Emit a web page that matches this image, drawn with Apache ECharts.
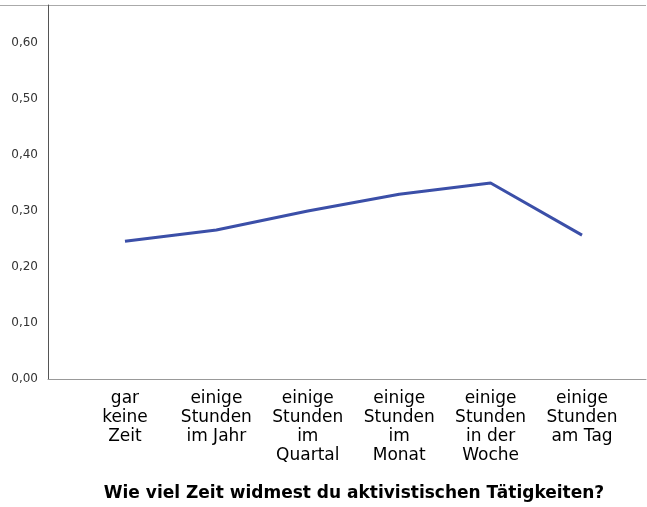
<!DOCTYPE html>
<html>
<head>
<meta charset="utf-8">
<script src="https://cdn.jsdelivr.net/npm/echarts@6/dist/echarts.min.js"></script>
<style>
    html, body { margin: 0; padding: 0; background: #fff; }
    #chart { width: 647px; height: 507px; }
</style>
</head>
<body>
<div id="chart"></div>
<script>
// categories on the x axis (line breaks as in the picture)
var categories = [
    "gar\nkeine\nZeit",
    "einige\nStunden\nim Jahr",
    "einige\nStunden\nim\nQuartal",
    "einige\nStunden\nim\nMonat",
    "einige\nStunden\nin der\nWoche",
    "einige\nStunden\nam Tag"
];
var meanValues = [0.246, 0.266, 0.300, 0.330, 0.350, 0.257];
var yTicks = [0, 0.1, 0.2, 0.3, 0.4, 0.5, 0.6];
var xTitle = "Wie viel Zeit widmest du aktivistischen Tätigkeiten?";

var chart = echarts.init(document.getElementById("chart"));

var xPositions = categories.map(function (c, i) { return i; });
var lineData = meanValues.map(function (v, i) { return [i, v]; });

var option = {
    animation: false,
    textStyle: { fontFamily: "DejaVu Sans" },
    graphic: [
        {
            type: "line",
            shape: { x1: 0, y1: 5.5, x2: 646, y2: 5.5 },
            style: { stroke: "#aaaaaa", lineWidth: 1 }
        }
    ],
    grid: {
        left: 48,
        right: 1,
        top: 5,
        bottom: 128
    },
    xAxis: {
        type: "value",
        min: -0.842,
        max: 5.70,
        name: xTitle,
        nameLocation: "middle",
        nameGap: 106,
        nameTextStyle: {
            fontSize: 17,
            fontWeight: "bold",
            color: "#000",
            padding: [0, 0, 0, 14]
        },
        splitLine: { show: false },
        axisTick: { show: false },
        axisLine: { onZero: false, lineStyle: { color: "#999999", width: 1 } },
        axisLabel: {
            customValues: xPositions,
            formatter: function (v) { return categories[Math.round(v)]; },
            fontSize: 17,
            lineHeight: 19,
            color: "#000",
            margin: 10
        }
    },
    yAxis: {
        type: "value",
        min: 0,
        max: 0.668,
        splitLine: { show: false },
        axisTick: { show: false },
        axisLine: { show: true, onZero: false, lineStyle: { color: "#555555", width: 1 } },
        axisLabel: {
            customValues: yTicks,
            formatter: function (v) { return v.toFixed(2).replace(".", ","); },
            fontSize: 12,
            color: "#333",
            margin: 10
        }
    },
    series: [
        {
            type: "line",
            data: lineData,
            showSymbol: false,
            lineStyle: { color: "#3b4fa8", width: 3 }
        }
    ]
};

chart.setOption(option);
</script>
</body>
</html>
